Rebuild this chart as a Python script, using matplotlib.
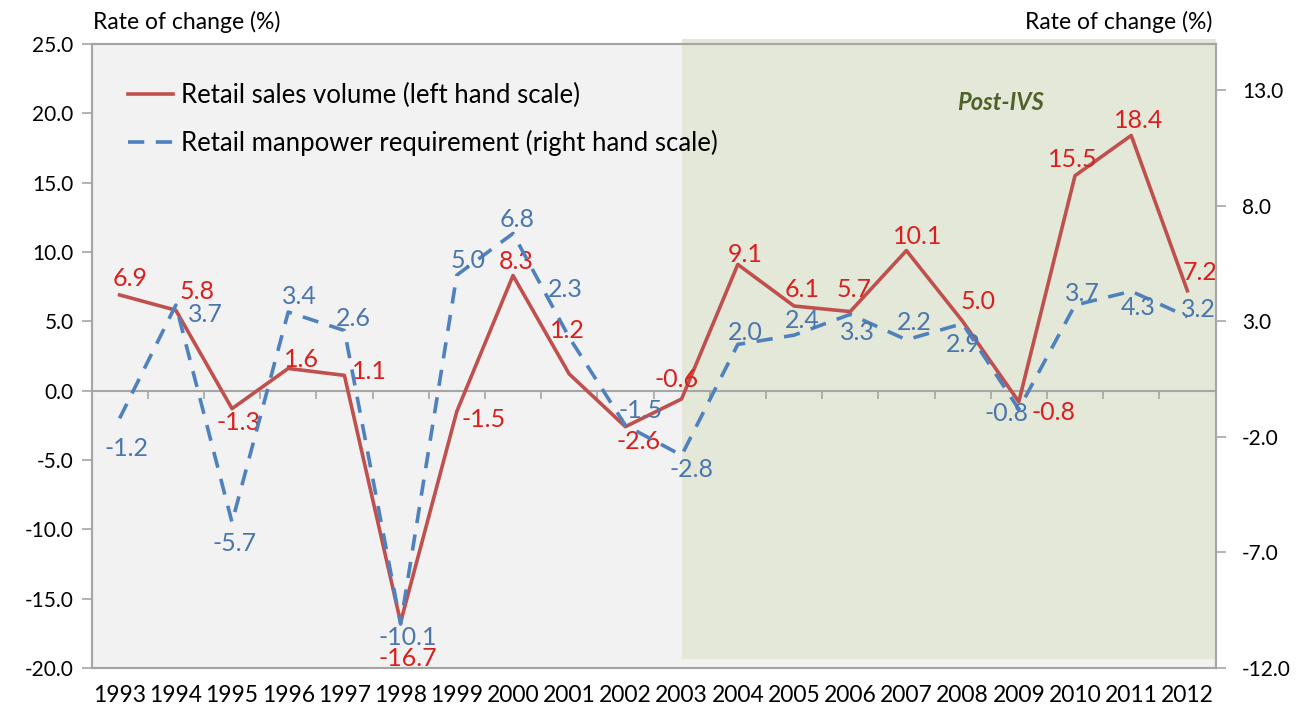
import matplotlib
matplotlib.use("Agg")
import matplotlib.pyplot as plt
from matplotlib.patches import Rectangle
import numpy as np

plt.rcParams["font.family"] = ["Lato", "DejaVu Sans"]

years = list(range(1993, 2013))
sales = [6.9, 5.8, -1.3, 1.6, 1.1, -16.7, -1.5, 8.3, 1.2, -2.6,
         -0.6, 9.1, 6.1, 5.7, 10.1, 5.0, -0.8, 15.5, 18.4, 7.2]
manpower = [-1.2, 3.7, -5.7, 3.4, 2.6, -10.1, 5.0, 6.8, 2.3, -1.5,
            -2.8, 2.0, 2.4, 3.3, 2.2, 2.9, -0.8, 3.7, 4.3, 3.2]

# label offsets (px, relative to the point)
sales_off = [(11, 16), (21, 19), (6, -14), (13, 9), (25, 4), (7, -36),
             (27, -8), (3, 14), (-2, 43), (13, -15), (-5, 19), (7, 10),
             (8, 17), (4, 22), (11, 14), (15, 20), (35, -11), (-2, 16),
             (7, 15), (13, 18)]
man_off = [(7, -30), (30, -9), (3, -21), (11, 16), (9, 12), (7, -13),
           (11, 15), (4, 14), (-4, 48), (15, 15), (10, -14), (8, 12),
           (8, 15), (7, -18), (8, 17), (1, -21), (-12, -4), (7, 12),
           (7, -16), (11, 7)]

RED = "#C0504D"
BLUE = "#4F81BD"
RED_TXT = "#D9201E"
BLUE_TXT = "#4A76AE"
GRID = "#A6A6A6"
FS = 15
LBL = 18

fig = plt.figure(figsize=(13, 7.1), dpi=100)
ax = fig.add_axes([0.0704, 0.0592, 0.8646, 0.8789])
ax2 = ax.twinx()
ax.set_facecolor("#F2F2F2")
ax2.patch.set_visible(False)

x = np.array(years)
ax.set_xlim(x[0] - 0.5, x[-1] + 0.5)
ax.set_ylim(-20, 25)
ax2.set_ylim(-12, 15)
ax.set_yticks(np.arange(-20, 26, 5))
ax.set_yticklabels([f"{v:.1f}" for v in np.arange(-20, 26, 5)])
ax2.set_yticks(np.arange(-12, 14, 5))
ax2.set_yticklabels([f"{v:.1f}" for v in np.arange(-12, 14, 5)])

# post-IVS shading
ax.add_patch(Rectangle((2003, -19.35), x[-1] + 0.5 - 2003, 25.36 + 19.35,
                       facecolor="#E4E8D8", edgecolor="none", zorder=0,
                       clip_on=False))
ax.text(2008.67, 20.75, "Post-IVS", color="#4F6228", fontsize=17,
        fontweight="bold", fontstyle="italic", ha="center", va="center")

# zero line with category ticks
ax.axhline(0, color=GRID, lw=1.5, zorder=1)
ax.vlines(np.arange(x[0] + 0.5, x[-1], 1), -0.6, 0, color=GRID, lw=1.2,
          zorder=1)

l1, = ax.plot(x, sales, color=RED, lw=2.6, zorder=3,
              label="Retail sales volume (left hand scale)")
l2, = ax2.plot(x, manpower, color=BLUE, lw=2.6, dashes=(4.5, 3.2),
               label="Retail manpower requirement (right hand scale)")

for xi, v, (dx, dy) in zip(x, sales, sales_off):
    ax.annotate(f"{v:.1f}", (xi, v), xytext=(dx * 0.72, dy * 0.72),
                textcoords="offset points", ha="center", va="center",
                color=RED_TXT, fontsize=LBL, zorder=5)
for xi, v, (dx, dy) in zip(x, manpower, man_off):
    ax2.annotate(f"{v:.1f}", (xi, v), xytext=(dx * 0.72, dy * 0.72),
                 textcoords="offset points", ha="center", va="center",
                 color=BLUE_TXT, fontsize=LBL)

ax.set_xticks(x)
ax.set_xticklabels([str(y) for y in years])
ax.tick_params(axis="x", length=0, pad=12, labelsize=16.5)
ax.tick_params(axis="y", length=7, color=GRID, width=1.2, labelsize=FS, pad=6)
ax2.tick_params(axis="y", length=7, color=GRID, width=1.2, labelsize=FS, pad=12)
for a in (ax, ax2):
    for s in a.spines.values():
        s.set_color(GRID)
        s.set_linewidth(1.5)

leg = ax.legend(handles=[l1, l2], loc="upper left",
                bbox_to_anchor=(0.0325, 0.938), frameon=False, fontsize=18.5,
                handlelength=1.75, handletextpad=0.3, labelspacing=0.85,
                borderpad=0, borderaxespad=0)

fig.text(93 / 1300, 1 - 22 / 710, "Rate of change (%)", fontsize=16.5,
         ha="left", va="center")
fig.text(1212 / 1300, 1 - 22 / 710, "Rate of change (%)", fontsize=16.5,
         ha="right", va="center")

fig.savefig("out.png", dpi=100)
